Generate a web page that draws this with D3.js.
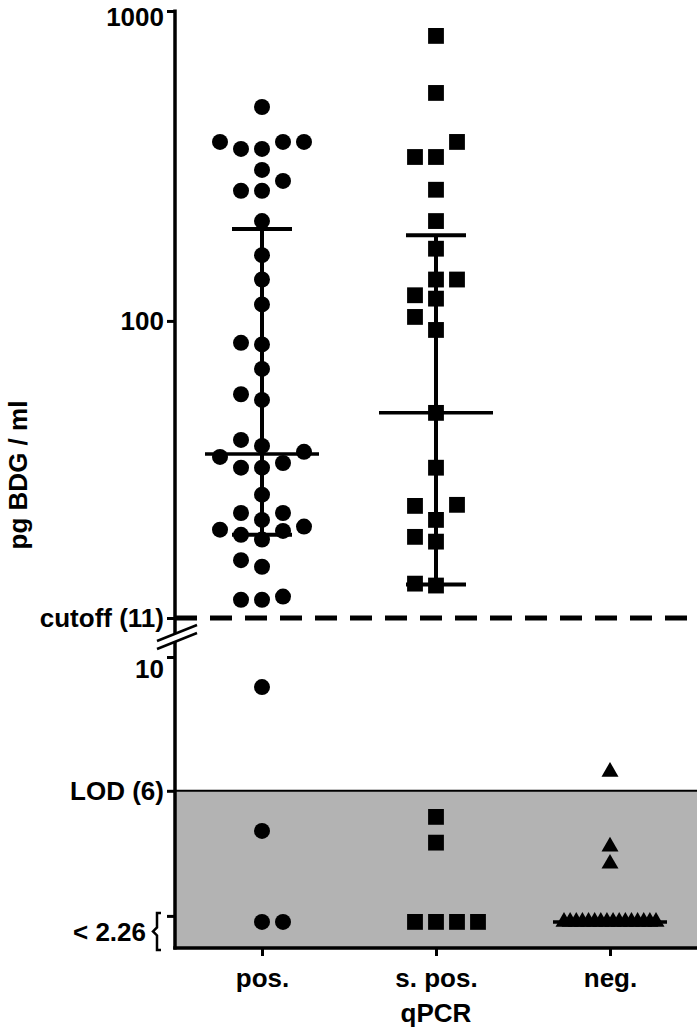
<!DOCTYPE html>
<html>
<head>
<meta charset="utf-8">
<script src="https://cdn.jsdelivr.net/npm/d3@7"></script>
<style>
  body { margin: 0; background: #fff; }
  svg text { font-family: "Liberation Sans", Arial, sans-serif; font-weight: bold; fill: #000; }
</style>
</head>
<body>
<div id="chart"></div>
<script>
// groups along x
const categories = ["pos.", "s. pos.", "neg."];

const posValues = [490, 378, 378, 378, 359, 359, 307, 283, 263, 263, 210, 163, 136, 113,
    85, 84, 70, 58, 55.6, 41.3, 39.5, 37.8, 36.4, 34.8, 33.6, 33.6, 27.5, 24.0, 24.0,
    22.8, 21.7, 21.2, 21.0, 20.4, 19.7, 16.9, 16.1, 12.9, 12.6, 12.6, 9.1, 4.8];
const sposValues = [831, 544, 378, 338, 338, 265, 210, 171, 136, 136, 121, 118, 103, 93.5,
    50.5, 33.6, 25.5, 25.3, 22.8, 20.1, 19.4, 14.2, 14.0, 5.22, 4.45];
const negValues = [6.57, 4.33, 3.82];

// samples below the lowest reportable value (< 2.26)
const belowCounts = [2, 4, 16];

// median and interquartile range per group (null = below 2.26)
const medians = [37.2, 50.5, null];
const q1s = [20.4, 14.1, null];
const q3s = [198, 189, null];

// axis values
const upperTicks = [1000, 100];
const cutoff = 11;
const lowerTick = 10;
const lod = 6;
const lowest = 2.26;
const belowValue = 2.08; // where the "< 2.26" samples are drawn

const groups = [posValues, sposValues, negValues];

const width = 700;
const height = 1035;
const left = 175;
const right = 697;
const bottom = 948;
const fontSize = '26px';

const svg = d3.select('#chart')
    .append('svg')
    .attr('width', width)
    .attr('height', height);

const xScale = d3.scalePoint()
    .domain(categories)
    .range([left, right])
    .padding(0.5);

// upper log segment and lower linear segment of the broken axis
const yUp = d3.scaleLog()
    .domain([cutoff, 1000])
    .range([618, 11]);

const yLow = d3.scaleLinear()
    .domain([1.3, lowerTick])
    .range([bottom, 657]);

const yOf = (v) => v >= cutoff ? yUp(v) : yLow(v);

// grey LOD region
svg.append('rect')
    .attr('x', left)
    .attr('y', yLow(lod))
    .attr('width', right - left)
    .attr('height', bottom - yLow(lod))
    .attr('fill', '#b3b3b3');

svg.append('line')
    .attr('x1', left).attr('x2', right)
    .attr('y1', yLow(lod)).attr('y2', yLow(lod))
    .attr('stroke', '#000')
    .attr('stroke-width', 2);

// cutoff dashed line
svg.append('line')
    .attr('x1', left).attr('x2', right)
    .attr('y1', yUp(cutoff)).attr('y2', yUp(cutoff))
    .attr('stroke', '#000')
    .attr('stroke-width', 5)
    .attr('stroke-dasharray', '22,13');

// axes
const styleAxis = (g) => {
    g.select('.domain').remove();
    g.selectAll('.tick line').attr('stroke', '#000').attr('stroke-width', 3);
    g.selectAll('.tick text').style('font-size', fontSize);
};

const upAxis = svg.append('g')
    .attr('transform', `translate(${left},0)`)
    .call(d3.axisLeft(yUp)
        .tickValues([...upperTicks, cutoff])
        .tickFormat((d) => d === cutoff ? `cutoff (${cutoff})` : d)
        .tickSize(8)
        .tickPadding(3))
    .call(styleAxis);

// keep the top label inside the page
upAxis.selectAll('.tick text')
    .filter((d) => d === 1000)
    .attr('dy', '0.55em');

const lowAxis = svg.append('g')
    .attr('transform', `translate(${left},0)`)
    .call(d3.axisLeft(yLow)
        .tickValues([lowerTick, lod, lowest])
        .tickFormat((d) => d === lod ? `LOD (${lod})` : d === lowerTick ? d : '')
        .tickSize(8)
        .tickPadding(3))
    .call(styleAxis);

// the "10" label sits a little under its tick
lowAxis.selectAll('.tick text')
    .filter((d) => d === lowerTick)
    .attr('dy', '0.8em');

// axis line with the break
const breakY = 638;
svg.append('line')
    .attr('x1', left).attr('x2', left)
    .attr('y1', 9.5).attr('y2', breakY - 4)
    .attr('stroke', '#000').attr('stroke-width', 3.5);
svg.append('line')
    .attr('x1', left).attr('x2', left)
    .attr('y1', breakY + 4).attr('y2', bottom + 1.5)
    .attr('stroke', '#000').attr('stroke-width', 3.5);

[-4, 4].forEach((o) => {
    svg.append('line')
        .attr('x1', left - 18).attr('y1', breakY + o + 7)
        .attr('x2', left + 22).attr('y2', breakY + o - 9)
        .attr('stroke', '#000').attr('stroke-width', 2.5);
});

// brace for "< 2.26"
const bTop = yLow(lowest) - 3;
const bBot = bottom + 2;
const bMid = (bTop + bBot) / 2;
svg.append('path')
    .attr('d', `M161,${bTop} H157 V${bMid - 4} L153,${bMid} L157,${bMid + 4} V${bBot} H161`)
    .attr('fill', 'none')
    .attr('stroke', '#000')
    .attr('stroke-width', 2.5);

svg.append('text')
    .attr('x', 146)
    .attr('y', bMid)
    .attr('dy', '0.35em')
    .attr('text-anchor', 'end')
    .style('font-size', fontSize)
    .text(`< ${lowest}`);

// x axis
const xAxis = svg.append('g')
    .attr('transform', `translate(0,${bottom})`)
    .call(d3.axisBottom(xScale).tickSize(8).tickPadding(13));
xAxis.select('.domain').remove();
xAxis.selectAll('.tick line').attr('stroke', '#000').attr('stroke-width', 3);
xAxis.selectAll('.tick text').style('font-size', fontSize);

svg.append('line')
    .attr('x1', left - 1.75).attr('x2', right)
    .attr('y1', bottom).attr('y2', bottom)
    .attr('stroke', '#000').attr('stroke-width', 3.5);

svg.append('text')
    .attr('x', xScale('s. pos.'))
    .attr('y', 1022)
    .attr('text-anchor', 'middle')
    .style('font-size', fontSize)
    .text('qPCR');

svg.append('text')
    .attr('transform', `translate(27,475) rotate(-90)`)
    .attr('text-anchor', 'middle')
    .style('font-size', fontSize)
    .text('pg BDG / ml');

// simple beeswarm: place each point in the nearest free lane
const laneStep = 21;
const swarm = (ys) => {
    const order = ys.map((y, i) => i).sort((a, b) => ys[b] - ys[a]);
    const placed = [];
    const lanes = new Array(ys.length).fill(0);
    const prefs = [0, -1, 1, -2, 2, -3, 3, -4, 4];
    order.forEach((i) => {
        for (const l of prefs) {
            if (!placed.some((p) => p.l === l && Math.abs(p.y - ys[i]) < 16.5)) {
                lanes[i] = l;
                placed.push({ l, y: ys[i] });
                break;
            }
        }
    });
    return lanes.map((l) => l * laneStep);
};

const belowOffsets = (n) => {
    if (n <= 5) return [0, 1, -1, 2, -2].slice(0, n).map((l) => l * laneStep);
    const step = Math.min(laneStep, 92 / (n - 1));
    return d3.range(n).map((i) => (i - (n - 1) / 2) * step);
};

const symbols = [d3.symbolCircle, d3.symbolSquare, d3.symbolTriangle];
const symbolSizes = [201, 250, 125];

categories.forEach((cat, gi) => {
    const cx = xScale(cat);
    const ys = groups[gi].map(yOf);
    const offs = swarm(ys);
    const pts = ys.map((y, i) => ({ x: cx + offs[i], y }));
    belowOffsets(belowCounts[gi]).forEach((o) => pts.push({ x: cx + o, y: yLow(belowValue) }));

    const med = medians[gi] === null ? yLow(belowValue) : yOf(medians[gi]);

    // median with interquartile range
    if (q1s[gi] !== null) {
        svg.append('line')
            .attr('x1', cx).attr('x2', cx)
            .attr('y1', yOf(q1s[gi])).attr('y2', yOf(q3s[gi]))
            .attr('stroke', '#000').attr('stroke-width', 4);
        [q1s[gi], q3s[gi]].forEach((q) => {
            svg.append('line')
                .attr('x1', cx - 30).attr('x2', cx + 30)
                .attr('y1', yOf(q)).attr('y2', yOf(q))
                .attr('stroke', '#000').attr('stroke-width', 4);
        });
    }
    svg.append('line')
        .attr('x1', cx - 57).attr('x2', cx + 57)
        .attr('y1', med).attr('y2', med)
        .attr('stroke', '#000').attr('stroke-width', 3.5);

    svg.append('g')
        .selectAll('path')
        .data(pts)
        .join('path')
        .attr('transform', (d) => `translate(${d.x},${d.y})`)
        .attr('d', d3.symbol(symbols[gi], symbolSizes[gi]))
        .attr('fill', '#000');
});
</script>
</body>
</html>
